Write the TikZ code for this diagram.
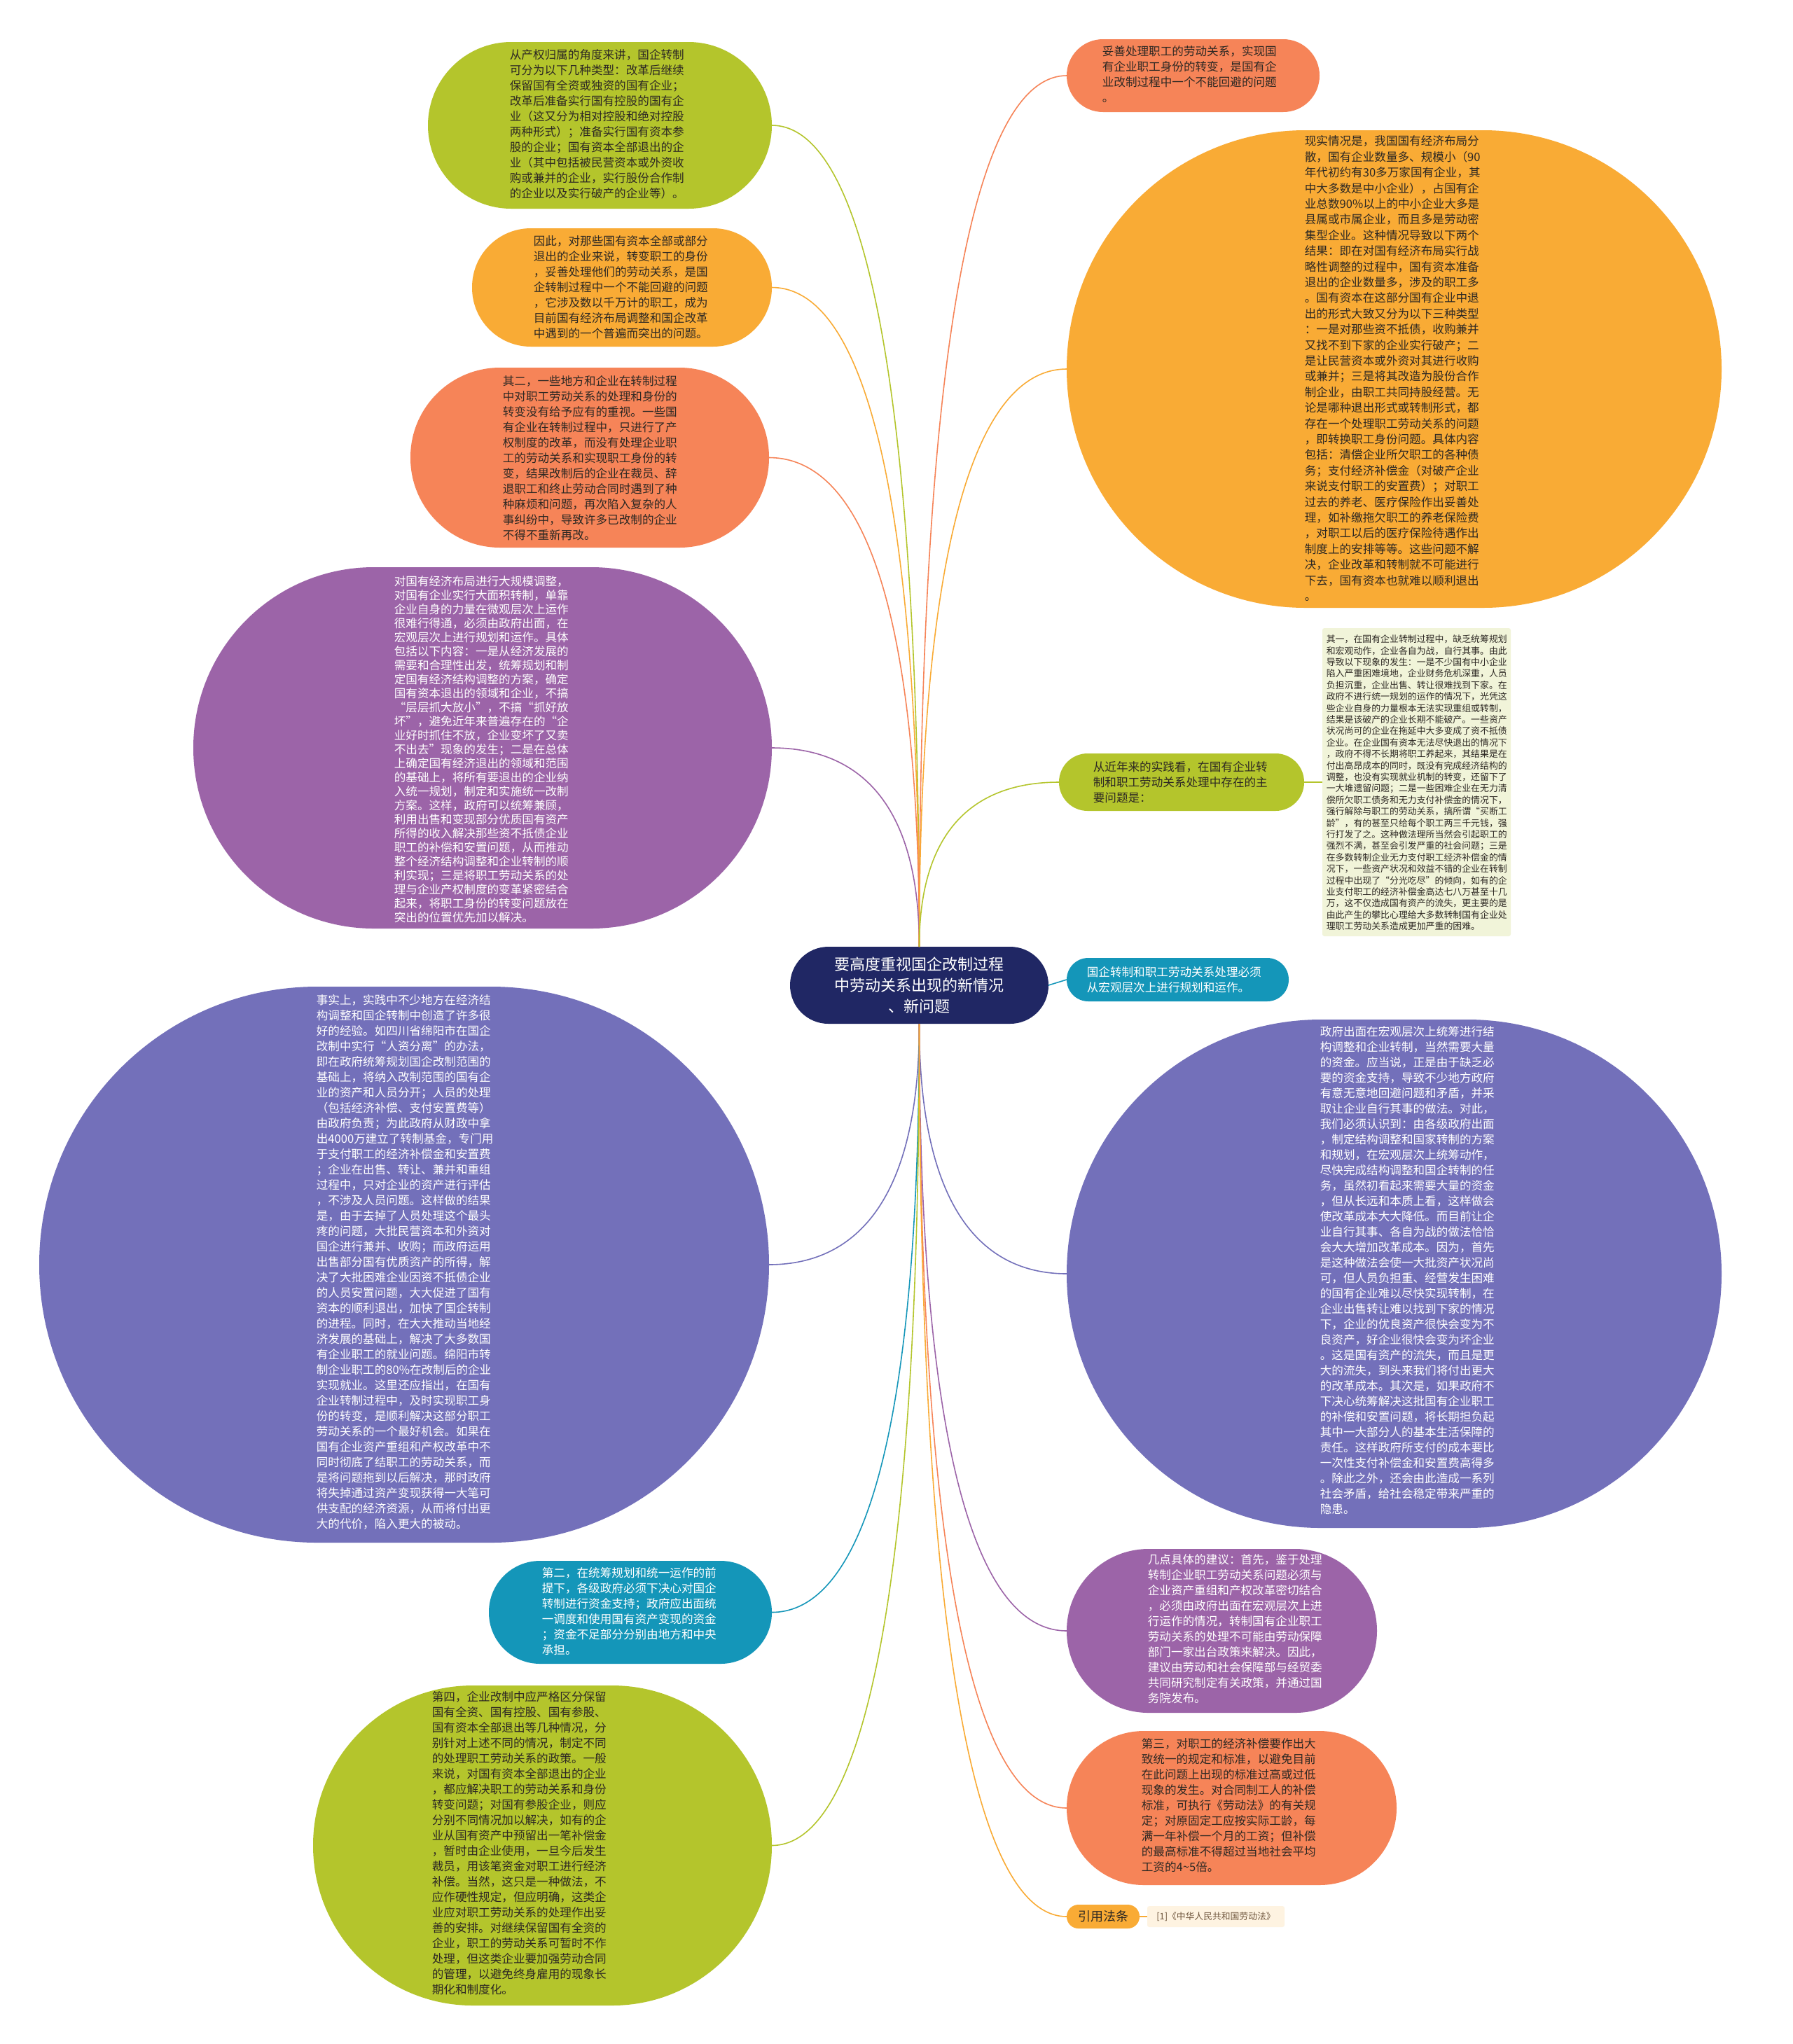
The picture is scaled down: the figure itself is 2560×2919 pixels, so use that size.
\documentclass[tikz,border=0pt]{standalone}
\usepackage{fontspec}
\newfontfamily\cjk{Noto Sans CJK SC}
\usetikzlibrary{calc}
\definecolor{leafgreen}{RGB}{180,197,44}
\definecolor{amber}{RGB}{249,171,53}
\definecolor{coral}{RGB}{246,132,88}
\definecolor{plum}{RGB}{156,100,168}
\definecolor{iris}{RGB}{115,112,186}
\definecolor{tealblue}{RGB}{20,150,185}
\definecolor{navy}{RGB}{32,39,100}
\definecolor{boxgreen}{RGB}{241,244,217}
\definecolor{cream}{RGB}{254,243,225}
\definecolor{inkdark}{RGB}{45,40,35}
\definecolor{inkbrown}{RGB}{110,85,60}
\tikzset{every scope/.style={line width=0.8pt},
  bubble/.style={fill=#1,draw=none,inner sep=0pt,outer sep=0pt},
  body/.style={anchor=north west,inner sep=0pt,align=left,text=#1,
    font=\cjk\fontsize{8.3pt}{11pt}\selectfont}}

\begin{document}
\begin{tikzpicture}[x=0.5pt,y=-0.5pt]
\fill[white] (0,0) rectangle (2560,2919);
\useasboundingbox (0,0) rectangle (2560,2919);

% left side
\node[bubble=leafgreen,minimum width=245.5pt,minimum height=119pt,rounded corners=59.5pt] (b1) at (856.5,179) {};
\node[bubble=amber,minimum width=214pt,minimum height=84.5pt,rounded corners=42pt] (b2) at (888,410.5) {};
\node[bubble=coral,minimum width=256pt,minimum height=128.5pt,rounded corners=64pt] (b3) at (842,653.5) {};
\node[bubble=plum,minimum width=413pt,minimum height=258pt,rounded corners=128.9pt] (b4) at (689,1068) {};
\node[bubble=iris,minimum width=521pt,minimum height=397pt,rounded corners=198.4pt] (b5) at (577,1806) {};
\node[bubble=tealblue,minimum width=202pt,minimum height=73.5pt,rounded corners=36.5pt] (b6) at (900,2302.5) {};
\node[bubble=leafgreen,minimum width=327.5pt,minimum height=228.5pt,rounded corners=114pt] (b7) at (774.5,2635.5) {};

% right side
\node[bubble=coral,minimum width=180.5pt,minimum height=52pt,rounded corners=25.9pt] (b9) at (1703.5,108) {};
\node[bubble=amber,minimum width=467.5pt,minimum height=341pt,rounded corners=170.4pt] (b10) at (1990.5,527) {};
\node[bubble=boxgreen,minimum width=134.5pt,minimum height=220pt,rounded corners=1.5pt] (b11) at (2022.5,1117) {};
\node[bubble=leafgreen,minimum width=175pt,minimum height=41pt,rounded corners=20.4pt] (b12) at (1687,1117) {};
\node[bubble=tealblue,minimum width=158.5pt,minimum height=31pt,rounded corners=15.4pt] (b13) at (1681.5,1399) {};
\node[bubble=iris,minimum width=467.5pt,minimum height=363pt,rounded corners=181.4pt] (b14) at (1990.5,1819) {};
\node[bubble=plum,minimum width=221.5pt,minimum height=117pt,rounded corners=58.4pt] (b15) at (1744.5,2329) {};
\node[bubble=coral,minimum width=235.5pt,minimum height=110pt,rounded corners=54.9pt] (b16) at (1758.5,2582) {};
\node[bubble=amber,minimum width=52pt,minimum height=17pt,rounded corners=8.4pt,text=inkdark,
  font=\cjk\fontsize{9pt}{10pt}\selectfont] (b17) at (1575,2737) {引用法条};
\node[bubble=cream,minimum width=98pt,minimum height=15pt,rounded corners=1.5pt,text=inkbrown,
  font=\cjk\fontsize{6.4pt}{8pt}\selectfont] (b18) at (1736,2737) {[1]《中华人民共和国劳动法》};

% centre
\node[bubble=navy,minimum width=184.5pt,minimum height=55pt,rounded corners=27.4pt,text=white,align=center,
  font=\cjk\fontsize{11pt}{15pt}\selectfont] (root) at (1312.5,1407) {要高度重视国企改制过程\\中劳动关系出现的新情况\\、新问题};

% connectors
\draw[leafgreen] (root.north) .. controls +(0,-938) and +(105,0) .. (b1.east);
\draw[amber]     (root.north) .. controls +(0,-753) and +(105,0) .. (b2.east);
\draw[coral]     (root.north) .. controls +(0,-559) and +(107,0) .. (b3.east);
\draw[plum]      (root.north) .. controls +(0,-227) and +(105,0) .. (b4.east);
\draw[coral]     (root.north) .. controls +(0,-995) and +(-105,0) .. (b9.west);
\draw[amber]     (root.north) .. controls +(0,-660) and +(-105,0) .. (b10.west);
\draw[leafgreen] (root.north) .. controls +(0,-188) and +(-100,0) .. (b12.west);
\draw[iris]      (root.south) .. controls +(0,275) and +(107,0) .. (b5.east);
\draw[tealblue]  (root.south) .. controls +(0,672) and +(105,0) .. (b6.east);
\draw[leafgreen] (root.south) .. controls +(0,939) and +(105,0) .. (b7.east);
\draw[iris]      (root.south) .. controls +(0,286) and +(-105,0) .. (b14.west);
\draw[plum]      (root.south) .. controls +(0,694) and +(-105,0) .. (b15.west);
\draw[coral]     (root.south) .. controls +(0,896) and +(-105,0) .. (b16.west);
\draw[amber]     (root.south) .. controls +(0,1020) and +(-105,0) .. (b17.west);
\draw[tealblue]  (root.east) -- (b13.west);
\draw[leafgreen] (b12.east) -- (b11.west);
\draw[amber]     (b17.east) -- (b18.west);

% texts
\node[body=inkdark] (t1) at (727,70) {从产权归属的角度来讲，国企转制\\
可分为以下几种类型：改革后继续\\
保留国有全资或独资的国有企业；\\
改革后准备实行国有控股的国有企\\
业（这又分为相对控股和绝对控股\\
两种形式）；准备实行国有资本参\\
股的企业；国有资本全部退出的企\\
业（其中包括被民营资本或外资收\\
购或兼并的企业，实行股份合作制\\
的企业以及实行破产的企业等）。};
\node[body=inkdark] (t2) at (761,336) {因此，对那些国有资本全部或部分\\
退出的企业来说，转变职工的身份\\
，妥善处理他们的劳动关系，是国\\
企转制过程中一个不能回避的问题\\
，它涉及数以千万计的职工，成为\\
目前国有经济布局调整和国企改革\\
中遇到的一个普遍而突出的问题。};
\node[body=inkdark] (t3) at (717,536) {其二，一些地方和企业在转制过程\\
中对职工劳动关系的处理和身份的\\
转变没有给予应有的重视。一些国\\
有企业在转制过程中，只进行了产\\
权制度的改革，而没有处理企业职\\
工的劳动关系和实现职工身份的转\\
变，结果改制后的企业在裁员、辞\\
退职工和终止劳动合同时遇到了种\\
种麻烦和问题，再次陷入复杂的人\\
事纠纷中，导致许多已改制的企业\\
不得不重新再改。};
\node[body=white,font=\cjk\fontsize{8.3pt}{10pt}\selectfont] (t4) at (562,822) {对国有经济布局进行大规模调整，\\
对国有企业实行大面积转制，单靠\\
企业自身的力量在微观层次上运作\\
很难行得通，必须由政府出面，在\\
宏观层次上进行规划和运作。具体\\
包括以下内容：一是从经济发展的\\
需要和合理性出发，统筹规划和制\\
定国有经济结构调整的方案，确定\\
国有资本退出的领域和企业，不搞\\
“层层抓大放小”，不搞“抓好放\\
坏”，避免近年来普遍存在的“企\\
业好时抓住不放，企业变坏了又卖\\
不出去”现象的发生；二是在总体\\
上确定国有经济退出的领域和范围\\
的基础上，将所有要退出的企业纳\\
入统一规划，制定和实施统一改制\\
方案。这样，政府可以统筹兼顾，\\
利用出售和变现部分优质国有资产\\
所得的收入解决那些资不抵债企业\\
职工的补偿和安置问题，从而推动\\
整个经济结构调整和企业转制的顺\\
利实现；三是将职工劳动关系的处\\
理与企业产权制度的变革紧密结合\\
起来，将职工身份的转变问题放在\\
突出的位置优先加以解决。};
\node[body=white] (t5) at (451,1420) {事实上，实践中不少地方在经济结\\
构调整和国企转制中创造了许多很\\
好的经验。如四川省绵阳市在国企\\
改制中实行“人资分离”的办法，\\
即在政府统筹规划国企改制范围的\\
基础上，将纳入改制范围的国有企\\
业的资产和人员分开；人员的处理\\
（包括经济补偿、支付安置费等）\\
由政府负责；为此政府从财政中拿\\
出4000万建立了转制基金，专门用\\
于支付职工的经济补偿金和安置费\\
；企业在出售、转让、兼并和重组\\
过程中，只对企业的资产进行评估\\
，不涉及人员问题。这样做的结果\\
是，由于去掉了人员处理这个最头\\
疼的问题，大批民营资本和外资对\\
国企进行兼并、收购；而政府运用\\
出售部分国有优质资产的所得，解\\
决了大批困难企业因资不抵债企业\\
的人员安置问题，大大促进了国有\\
资本的顺利退出，加快了国企转制\\
的进程。同时，在大大推动当地经\\
济发展的基础上，解决了大多数国\\
有企业职工的就业问题。绵阳市转\\
制企业职工的80\%在改制后的企业\\
实现就业。这里还应指出，在国有\\
企业转制过程中，及时实现职工身\\
份的转变，是顺利解决这部分职工\\
劳动关系的一个最好机会。如果在\\
国有企业资产重组和产权改革中不\\
同时彻底了结职工的劳动关系，而\\
是将问题拖到以后解决，那时政府\\
将失掉通过资产变现获得一大笔可\\
供支配的经济资源，从而将付出更\\
大的代价，陷入更大的被动。};
\node[body=white] (t6) at (773,2238) {第二，在统筹规划和统一运作的前\\
提下，各级政府必须下决心对国企\\
转制进行资金支持；政府应出面统\\
一调度和使用国有资产变现的资金\\
；资金不足部分分别由地方和中央\\
承担。};
\node[body=inkdark] (t7) at (616,2415) {第四，企业改制中应严格区分保留\\
国有全资、国有控股、国有参股、\\
国有资本全部退出等几种情况，分\\
别针对上述不同的情况，制定不同\\
的处理职工劳动关系的政策。一般\\
来说，对国有资本全部退出的企业\\
，都应解决职工的劳动关系和身份\\
转变问题；对国有参股企业，则应\\
分别不同情况加以解决，如有的企\\
业从国有资产中预留出一笔补偿金\\
，暂时由企业使用，一旦今后发生\\
裁员，用该笔资金对职工进行经济\\
补偿。当然，这只是一种做法，不\\
应作硬性规定，但应明确，这类企\\
业应对职工劳动关系的处理作出妥\\
善的安排。对继续保留国有全资的\\
企业，职工的劳动关系可暂时不作\\
处理，但这类企业要加强劳动合同\\
的管理，以避免终身雇用的现象长\\
期化和制度化。};
\node[body=inkdark] (t9) at (1573,65) {妥善处理职工的劳动关系，实现国\\
有企业职工身份的转变，是国有企\\
业改制过程中一个不能回避的问题\\
。};
\node[body=inkdark,font=\cjk\fontsize{8.3pt}{11.2pt}\selectfont] (t10) at (1862,193) {现实情况是，我国国有经济布局分\\
散，国有企业数量多、规模小（90\\
年代初约有30多万家国有企业，其\\
中大多数是中小企业），占国有企\\
业总数90\%以上的中小企业大多是\\
县属或市属企业，而且多是劳动密\\
集型企业。这种情况导致以下两个\\
结果：即在对国有经济布局实行战\\
略性调整的过程中，国有资本准备\\
退出的企业数量多，涉及的职工多\\
。国有资本在这部分国有企业中退\\
出的形式大致又分为以下三种类型\\
：一是对那些资不抵债，收购兼并\\
又找不到下家的企业实行破产；二\\
是让民营资本或外资对其进行收购\\
或兼并；三是将其改造为股份合作\\
制企业，由职工共同持股经营。无\\
论是哪种退出形式或转制形式，都\\
存在一个处理职工劳动关系的问题\\
，即转换职工身份问题。具体内容\\
包括：清偿企业所欠职工的各种债\\
务；支付经济补偿金（对破产企业\\
来说支付职工的安置费）；对职工\\
过去的养老、医疗保险作出妥善处\\
理，如补缴拖欠职工的养老保险费\\
，对职工以后的医疗保险待遇作出\\
制度上的安排等等。这些问题不解\\
决，企业改革和转制就不可能进行\\
下去，国有资本也就难以顺利退出\\
。};
\node[body=inkdark,font=\cjk\fontsize{6.45pt}{8.2pt}\selectfont] (t11) at (1893,906) {其一，在国有企业转制过程中，缺乏统筹规划\\
和宏观动作，企业各自为战，自行其事。由此\\
导致以下现象的发生：一是不少国有中小企业\\
陷入严重困难境地，企业财务危机深重，人员\\
负担沉重，企业出售、转让很难找到下家。在\\
政府不进行统一规划的运作的情况下，光凭这\\
些企业自身的力量根本无法实现重组或转制，\\
结果是该破产的企业长期不能破产。一些资产\\
状况尚可的企业在拖延中大多变成了资不抵债\\
企业。在企业国有资本无法尽快退出的情况下\\
，政府不得不长期将职工养起来，其结果是在\\
付出高昂成本的同时，既没有完成经济结构的\\
调整，也没有实现就业机制的转变，还留下了\\
一大堆遗留问题；二是一些困难企业在无力清\\
偿所欠职工债务和无力支付补偿金的情况下，\\
强行解除与职工的劳动关系，搞所谓“买断工\\
龄”，有的甚至只给每个职工两三千元钱，强\\
行打发了之。这种做法理所当然会引起职工的\\
强烈不满，甚至会引发严重的社会问题；三是\\
在多数转制企业无力支付职工经济补偿金的情\\
况下，一些资产状况和效益不错的企业在转制\\
过程中出现了“分光吃尽”的倾向，如有的企\\
业支付职工的经济补偿金高达七八万甚至十几\\
万，这不仅造成国有资产的流失，更主要的是\\
由此产生的攀比心理给大多数转制国有企业处\\
理职工劳动关系造成更加严重的困难。};
\node[body=inkdark] (t12) at (1560,1087) {从近年来的实践看，在国有企业转\\
制和职工劳动关系处理中存在的主\\
要问题是：};
\node[body=white] (t13) at (1551,1380) {国企转制和职工劳动关系处理必须\\
从宏观层次上进行规划和运作。};
\node[body=white] (t14) at (1884,1465) {政府出面在宏观层次上统筹进行结\\
构调整和企业转制，当然需要大量\\
的资金。应当说，正是由于缺乏必\\
要的资金支持，导致不少地方政府\\
有意无意地回避问题和矛盾，并采\\
取让企业自行其事的做法。对此，\\
我们必须认识到：由各级政府出面\\
，制定结构调整和国家转制的方案\\
和规划，在宏观层次上统筹动作，\\
尽快完成结构调整和国企转制的任\\
务，虽然初看起来需要大量的资金\\
，但从长远和本质上看，这样做会\\
使改革成本大大降低。而目前让企\\
业自行其事、各自为战的做法恰恰\\
会大大增加改革成本。因为，首先\\
是这种做法会使一大批资产状况尚\\
可，但人员负担重、经营发生困难\\
的国有企业难以尽快实现转制，在\\
企业出售转让难以找到下家的情况\\
下，企业的优良资产很快会变为不\\
良资产，好企业很快会变为坏企业\\
。这是国有资产的流失，而且是更\\
大的流失，到头来我们将付出更大\\
的改革成本。其次是，如果政府不\\
下决心统筹解决这批国有企业职工\\
的补偿和安置问题，将长期担负起\\
其中一大部分人的基本生活保障的\\
责任。这样政府所支付的成本要比\\
一次性支付补偿金和安置费高得多\\
。除此之外，还会由此造成一系列\\
社会矛盾，给社会稳定带来严重的\\
隐患。};
\node[body=white] (t15) at (1638,2219) {几点具体的建议：首先，鉴于处理\\
转制企业职工劳动关系问题必须与\\
企业资产重组和产权改革密切结合\\
，必须由政府出面在宏观层次上进\\
行运作的情况，转制国有企业职工\\
劳动关系的处理不可能由劳动保障\\
部门一家出台政策来解决。因此，\\
建议由劳动和社会保障部与经贸委\\
共同研究制定有关政策，并通过国\\
务院发布。};
\node[body=inkdark] (t16) at (1629,2482) {第三，对职工的经济补偿要作出大\\
致统一的规定和标准，以避免目前\\
在此问题上出现的标准过高或过低\\
现象的发生。对合同制工人的补偿\\
标准，可执行《劳动法》的有关规\\
定；对原固定工应按实际工龄，每\\
满一年补偿一个月的工资；但补偿\\
的最高标准不得超过当地社会平均\\
工资的4\textasciitilde5倍。};
\end{tikzpicture}
\end{document}
